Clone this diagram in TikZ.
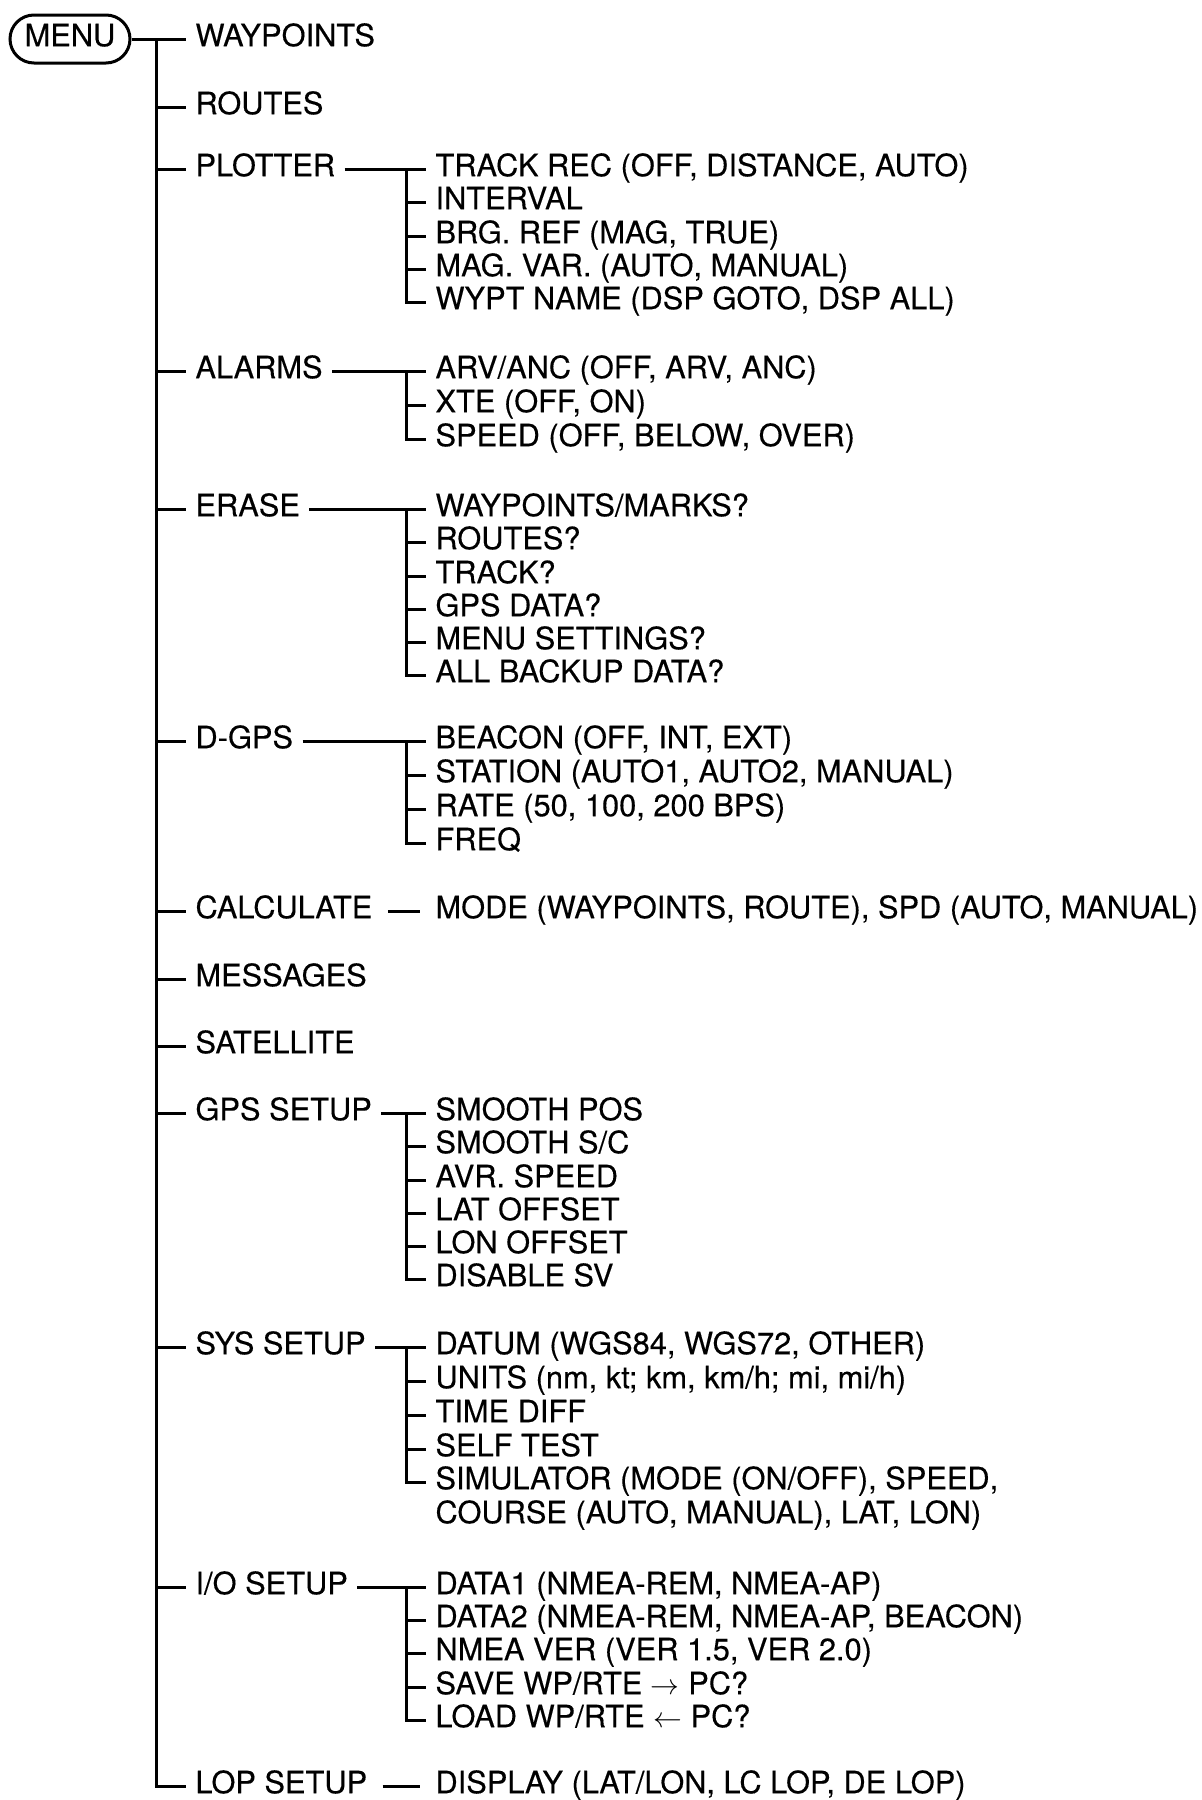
\documentclass[tikz,border=0pt]{standalone}
\usepackage{fontspec}
\setmainfont{TeX Gyre Heros}[FakeBold=0.3]
\usetikzlibrary{positioning,shapes.misc}

\begin{document}
\begin{tikzpicture}
[x=0.5pt,y=-0.5pt,line width=1.5pt,
 every node/.style={font=\fontsize{15.4}{18}\selectfont,inner xsep=4pt,inner ysep=0pt,text height=0.72em,text depth=0pt},
 item/.style={anchor=west},
 menubox/.style={draw,rounded rectangle,minimum width=68pt,minimum height=24pt}]
\useasboundingbox (0,0) rectangle (1202,1800);
\coordinate (top) at (156,39);
\coordinate (sx) at (406,0);
\node[menubox] (menu) at (70,39) {MENU};
\node[item] (wp) at (186,39) {WAYPOINTS};
\node[item] (ro) at (186,107) {ROUTES};
\node[item] (pl) at (186,169) {PLOTTER};
\node[item] (al) at (186,371) {ALARMS};
\node[item] (er) at (186,509) {ERASE};
\node[item] (dg) at (186,741) {D-GPS};
\node[item] (ca) at (186,911) {CALCULATE};
\node[item] (me) at (186,979) {MESSAGES};
\node[item] (sa) at (186,1046) {SATELLITE};
\node[item] (gs) at (186,1113) {GPS SETUP};
\node[item] (ss) at (186,1347) {SYS SETUP};
\node[item] (io) at (186,1587) {I/O SETUP};
\node[item] (lop) at (186,1786) {LOP SETUP};
\node[item] (pl1) at (426,169) {TRACK REC (OFF, DISTANCE, AUTO)};
\node[item] (pl2) at (426,202) {INTERVAL};
\node[item] (pl3) at (426,236) {BRG. REF (MAG, TRUE)};
\node[item] (pl4) at (426,269) {MAG. VAR. (AUTO, MANUAL)};
\node[item] (pl5) at (426,302) {WYPT NAME (DSP GOTO, DSP ALL)};
\node[item] (al1) at (426,371) {ARV/ANC (OFF, ARV, ANC)};
\node[item] (al2) at (426,405) {XTE (OFF, ON)};
\node[item] (al3) at (426,439) {SPEED (OFF, BELOW, OVER)};
\node[item] (er1) at (426,509) {WAYPOINTS/MARKS?};
\node[item] (er2) at (426,542) {ROUTES?};
\node[item] (er3) at (426,576) {TRACK?};
\node[item] (er4) at (426,609) {GPS DATA?};
\node[item] (er5) at (426,642) {MENU SETTINGS?};
\node[item] (er6) at (426,675) {ALL BACKUP DATA?};
\node[item] (dg1) at (426,741) {BEACON (OFF, INT, EXT)};
\node[item] (dg2) at (426,775) {STATION (AUTO1, AUTO2, MANUAL)};
\node[item] (dg3) at (426,809) {RATE (50, 100, 200 BPS)};
\node[item] (dg4) at (426,843) {FREQ};
\node[item] (ca1) at (426,911) {MODE (WAYPOINTS, ROUTE), SPD (AUTO, MANUAL)};
\node[item] (gs1) at (426,1113) {SMOOTH POS};
\node[item] (gs2) at (426,1146) {SMOOTH S/C};
\node[item] (gs3) at (426,1180) {AVR. SPEED};
\node[item] (gs4) at (426,1213) {LAT OFFSET};
\node[item] (gs5) at (426,1246) {LON OFFSET};
\node[item] (gs6) at (426,1279) {DISABLE SV};
\node[item] (ss1) at (426,1347) {DATUM (WGS84, WGS72, OTHER)};
\node[item] (ss2) at (426,1381) {UNITS (nm, kt; km, km/h; mi, mi/h)};
\node[item] (ss3) at (426,1415) {TIME DIFF};
\node[item] (ss4) at (426,1449) {SELF TEST};
\node[item] (ss5) at (426,1482) {SIMULATOR (MODE (ON/OFF), SPEED,};
\node[item] (ss5b) at (426,1516) {COURSE (AUTO, MANUAL), LAT, LON)};
\node[item] (io1) at (426,1587) {DATA1 (NMEA-REM, NMEA-AP)};
\node[item] (io2) at (426,1620) {DATA2 (NMEA-REM, NMEA-AP, BEACON)};
\node[item] (io3) at (426,1653) {NMEA VER (VER 1.5, VER 2.0)};
\node[item] (io4) at (426,1687) {SAVE WP/RTE $\rightarrow$ PC?};
\node[item] (io5) at (426,1720) {LOAD WP/RTE $\leftarrow$ PC?};
\node[item] (lop1) at (426,1786) {DISPLAY (LAT/LON, LC LOP, DE LOP)};
\draw (menu.east) -- (wp.west);
\draw (top) |- (lop.west);
\foreach \n in {ro,pl,al,er,dg,ca,me,sa,gs,ss,io}
  \draw (top |- \n.west) -- (\n.west);
\foreach \p/\a/\z in {pl/pl1/pl5,al/al1/al3,er/er1/er6,dg/dg1/dg4,gs/gs1/gs6,ss/ss1/ss5,io/io1/io5}{
  \draw (\p.east) -- (\a.west);
  \draw (sx |- \a.west) |- (\z.west);
}
\foreach \n in {pl2,pl3,pl4,al2,er2,er3,er4,er5,dg2,dg3,gs2,gs3,gs4,gs5,ss2,ss3,ss4,io2,io3,io4}
  \draw (sx |- \n.west) -- (\n.west);
\draw[shorten <=3pt,shorten >=3pt] (ca.east) -- (ca1.west);
\draw[shorten <=3pt,shorten >=3pt] (lop.east) -- (lop1.west);
\end{tikzpicture}
\end{document}
